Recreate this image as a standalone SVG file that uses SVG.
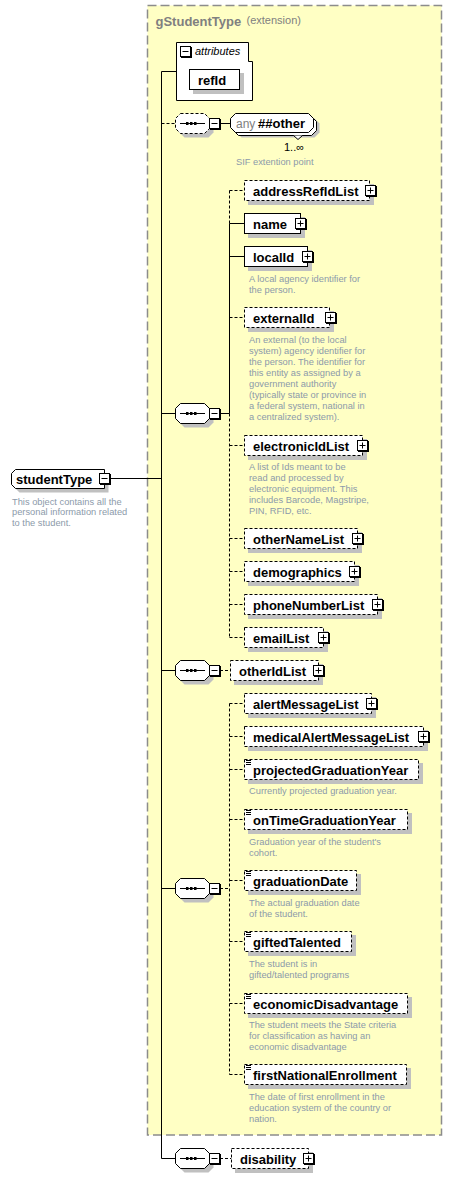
<svg xmlns="http://www.w3.org/2000/svg" xmlns:xlink="http://www.w3.org/1999/xlink" width="452" height="1178" viewBox="0 0 452 1178">
<style>
.bg{fill:#fff}
.grp{fill:#FFFFC4;stroke:#8c8c8c;stroke-width:1.5;stroke-dasharray:9,4}
.sh{fill:#c0c0c0}
.box{fill:#fff;stroke:#000;stroke-width:1}
.opt{stroke-dasharray:3,2}
.ln{fill:none;stroke:#000;stroke-width:1}
.dl{fill:none;stroke:#000;stroke-width:1;stroke-dasharray:3,2}
.nm{font-family:"Liberation Sans",Arial,sans-serif;font-weight:bold;font-size:13px;fill:#000}
.ds{font-family:"Liberation Sans",Arial,sans-serif;font-size:9.3px;fill:#8c9aaa}
.gt{font-family:"Liberation Sans",Arial,sans-serif;font-weight:bold;font-size:13px;fill:#808080}
.ext{font-family:"Liberation Sans",Arial,sans-serif;font-size:11px;fill:#808080}
.it{font-family:"Liberation Sans",Arial,sans-serif;font-style:italic;font-size:11px;fill:#000}
.sm{font-family:"Liberation Sans","DejaVu Sans",sans-serif;font-size:11px;fill:#000}
.any{font-family:"Liberation Sans",Arial,sans-serif;font-size:12px;fill:#808080}
</style>
<defs>
<g id="plus">
<rect x="1" y="1" width="11" height="11" fill="#000"/>
<rect x="0.5" y="0.5" width="10" height="10" class="box"/>
<path d="M2.5,5.5H8.5M5.5,2.5V8.5" class="ln"/>
</g>
<g id="minus">
<rect x="1" y="1" width="11" height="11" fill="#000"/>
<rect x="0.5" y="0.5" width="10" height="10" class="box"/>
<path d="M2.5,5.5H8.5" class="ln"/>
</g>
<path id="seqShape" d="M5.5,-9.5H29.5L34.5,-4.5V5.5L29.5,10.5H5.5L0.5,5.5V-4.5Z"/>
<g id="seqInner">
<path d="M5,0.5H30" class="ln"/>
<rect x="11" y="-1" width="2.5" height="3" fill="#000"/>
<rect x="15" y="-1" width="2.5" height="3" fill="#000"/>
<rect x="19" y="-1" width="2.5" height="3" fill="#000"/>
<use xlink:href="#minus" x="34" y="-5"/>
</g>
<g id="seq">
<use xlink:href="#seqShape" class="sh" transform="translate(4,4)"/>
<use xlink:href="#seqShape" class="box"/>
<use xlink:href="#seqInner"/>
</g>
<g id="seqOpt">
<use xlink:href="#seqShape" class="sh" transform="translate(4,4)"/>
<use xlink:href="#seqShape" class="box opt"/>
<use xlink:href="#seqInner"/>
</g>
<path id="eq" d="M246,1.5H251M246,3.5H251M246,5.5H251" class="ln"/>
</defs>

<rect x="0" y="0" width="452" height="1178" class="bg"/>

<g id="gStudentType">
<rect x="147.5" y="5.5" width="294" height="1129.5" class="grp"/>
<text x="155.5" y="26" class="gt">gStudentType</text>
<text x="246.5" y="24" class="ext">(extension)</text>
</g>

<g id="connectors">
<path d="M161.5,71.5V1158.5" class="ln"/>
<path d="M161.5,71.5H176.5" class="ln"/>
<path d="M110,478.5H161.5" class="ln"/>
<path d="M161.5,123.5H175.5" class="dl"/>
<path d="M161.5,413.5H175.5M161.5,670.5H175.5M161.5,888.5H175.5M161.5,1158.5H175.5" class="ln"/>
<path d="M220,123.5H230.5" class="ln"/>
<path d="M220,413.5H229.5M229.5,223.5V413.5M229.5,223.5H244.5M229.5,256.5H244.5" class="ln"/>
<path d="M229.5,190.5V223.5M229.5,413.5V637.5M229.5,190.5H244.5M229.5,317.5H244.5M229.5,445.5H244.5M229.5,538.5H244.5M229.5,571.5H244.5M229.5,604.5H244.5M229.5,637.5H244.5" class="dl"/>
<path d="M220,670.5H230.5" class="dl"/>
<path d="M220,888.5H229.5M229.5,703.5V1074.5M229.5,703.5H244.5M229.5,736.5H244.5M229.5,769.5H244.5M229.5,819.5H244.5M229.5,880.5H244.5M229.5,941.5H244.5M229.5,1003.5H244.5M229.5,1074.5H244.5" class="dl"/>
<path d="M220,1158.5H231.5" class="dl"/>
</g>

<g id="studentType">
<path d="M15.5,469.5H104.5V488.5H15.5L11.5,484.5V473.5Z" class="sh" transform="translate(4,4)"/>
<path d="M15.5,469.5H104.5V488.5H15.5L11.5,484.5V473.5Z" class="box"/>
<text x="16" y="483.5" class="nm">studentType</text>
<use xlink:href="#minus" x="99" y="473"/>
<text class="ds"><tspan x="12" y="504.5">This object contains all the</tspan><tspan x="12" y="515">personal information related</tspan><tspan x="12" y="525.5">to the student.</tspan></text>
</g>

<g id="attributes">
<path d="M176.5,42.5H248.5V61.5H252.5V100.5H176.5Z" class="box"/>
<use xlink:href="#minus" x="180" y="46"/>
<text x="195" y="55" class="it">attributes</text>
</g>

<g id="refId">
<rect x="193" y="73" width="51" height="21" class="sh"/>
<rect x="189.5" y="69.5" width="50" height="20" class="box"/>
<text x="198" y="84.5" class="nm">refId</text>
</g>

<g id="seq1"><use xlink:href="#seqOpt" x="175" y="123"/></g>

<g id="anyOther">
<path d="M235.5,113.5H308.5L313.5,118.5V127.5L308.5,132.5H235.5L230.5,127.5V118.5Z" class="sh" transform="translate(6,5)"/>
<path d="M235.5,113.5H308.5L313.5,118.5V127.5L308.5,132.5H235.5L230.5,127.5V118.5Z" class="box" transform="translate(3,3)"/>
<path d="M293.5,135.5L298,139.5L302.5,135.5" class="box"/>
<path d="M235.5,113.5H308.5L313.5,118.5V127.5L308.5,132.5H235.5L230.5,127.5V118.5Z" class="box"/>
<text x="236" y="127.5" class="any">any</text>
<text x="258" y="127.5" class="nm">##other</text>
<text x="284" y="150.5" class="sm">1..∞</text>
<text x="236" y="165" class="ds">SIF extention point</text>
</g>

<g id="seq2"><use xlink:href="#seq" x="175" y="413"/></g>

<g id="addressRefIdList">
<rect x="248" y="184" width="126" height="21" class="sh"/>
<rect x="244.5" y="180.5" width="125" height="20" class="box opt"/>
<text x="253" y="195.5" class="nm">addressRefIdList</text>
<use xlink:href="#plus" x="365" y="185"/>
</g>

<g id="name">
<rect x="248" y="217" width="57" height="21" class="sh"/>
<rect x="244.5" y="213.5" width="56" height="20" class="box"/>
<text x="253" y="228.5" class="nm">name</text>
<use xlink:href="#plus" x="295" y="218"/>
</g>

<g id="localId">
<rect x="248" y="250" width="64" height="21" class="sh"/>
<rect x="244.5" y="246.5" width="63" height="20" class="box"/>
<text x="253" y="261.5" class="nm">localId</text>
<use xlink:href="#plus" x="302" y="251"/>
<text class="ds"><tspan x="249" y="282">A local agency identifier for</tspan><tspan x="249" y="293">the person.</tspan></text>
</g>

<g id="externalId">
<rect x="248" y="311" width="86" height="21" class="sh"/>
<rect x="244.5" y="307.5" width="85" height="20" class="box opt"/>
<text x="253" y="322.5" class="nm">externalId</text>
<use xlink:href="#plus" x="325" y="312"/>
<text class="ds"><tspan x="249" y="342.5">An external (to the local</tspan><tspan x="249" y="353.5">system) agency identifier for</tspan><tspan x="249" y="364.5">the person. The identifier for</tspan><tspan x="249" y="375.5">this entity as assigned by a</tspan><tspan x="249" y="386.5">government authority</tspan><tspan x="249" y="397.5">(typically state or province in</tspan><tspan x="249" y="408.5">a federal system, national in</tspan><tspan x="249" y="419.5">a centralized system).</tspan></text>
</g>

<g id="electronicIdList">
<rect x="248" y="439" width="119" height="21" class="sh"/>
<rect x="244.5" y="435.5" width="118" height="20" class="box opt"/>
<text x="253" y="450.5" class="nm">electronicIdList</text>
<use xlink:href="#plus" x="357" y="440"/>
<text class="ds"><tspan x="249" y="469.5">A list of Ids meant to be</tspan><tspan x="249" y="480.5">read and processed by</tspan><tspan x="249" y="491.5">electronic equipment. This</tspan><tspan x="249" y="502.5">includes Barcode, Magstripe,</tspan><tspan x="249" y="513.5">PIN, RFID, etc.</tspan></text>
</g>

<g id="otherNameList">
<rect x="248" y="532" width="114" height="21" class="sh"/>
<rect x="244.5" y="528.5" width="113" height="20" class="box opt"/>
<text x="253" y="543.5" class="nm">otherNameList</text>
<use xlink:href="#plus" x="352" y="533"/>
</g>

<g id="demographics">
<rect x="248" y="565" width="111" height="21" class="sh"/>
<rect x="244.5" y="561.5" width="110" height="20" class="box opt"/>
<text x="253" y="576.5" class="nm">demographics</text>
<use xlink:href="#plus" x="349" y="566"/>
</g>

<g id="phoneNumberList">
<rect x="248" y="598" width="134" height="21" class="sh"/>
<rect x="244.5" y="594.5" width="133" height="20" class="box opt"/>
<text x="253" y="609.5" class="nm">phoneNumberList</text>
<use xlink:href="#plus" x="372" y="599"/>
</g>

<g id="emailList">
<rect x="248" y="631" width="80" height="21" class="sh"/>
<rect x="244.5" y="627.5" width="79" height="20" class="box opt"/>
<text x="253" y="642.5" class="nm">emailList</text>
<use xlink:href="#plus" x="318" y="632"/>
</g>

<g id="seq3"><use xlink:href="#seq" x="175" y="670"/></g>

<g id="otherIdList">
<rect x="234" y="664" width="89" height="21" class="sh"/>
<rect x="230.5" y="660.5" width="88" height="20" class="box opt"/>
<text x="239" y="675.5" class="nm">otherIdList</text>
<use xlink:href="#plus" x="313" y="665"/>
</g>

<g id="seq4"><use xlink:href="#seq" x="175" y="888"/></g>

<g id="alertMessageList">
<rect x="248" y="697" width="128" height="21" class="sh"/>
<rect x="244.5" y="693.5" width="127" height="20" class="box opt"/>
<text x="253" y="708.5" class="nm">alertMessageList</text>
<use xlink:href="#plus" x="366" y="698"/>
</g>

<g id="medicalAlertMessageList">
<rect x="248" y="730" width="180" height="21" class="sh"/>
<rect x="244.5" y="726.5" width="179" height="20" class="box opt"/>
<text x="253" y="741.5" class="nm">medicalAlertMessageList</text>
<use xlink:href="#plus" x="418" y="731"/>
</g>

<g id="projectedGraduationYear">
<rect x="248" y="763" width="175" height="21" class="sh"/>
<rect x="244.5" y="759.5" width="174" height="20" class="box opt"/>
<use xlink:href="#eq" y="759"/>
<text x="253" y="774.5" class="nm">projectedGraduationYear</text>
<text x="249" y="794" class="ds">Currently projected graduation year.</text>
</g>

<g id="onTimeGraduationYear">
<rect x="248" y="813" width="164" height="21" class="sh"/>
<rect x="244.5" y="809.5" width="163" height="20" class="box opt"/>
<use xlink:href="#eq" y="809"/>
<text x="253" y="824.5" class="nm">onTimeGraduationYear</text>
<text class="ds"><tspan x="249" y="844.5">Graduation year of the student's</tspan><tspan x="249" y="855.5">cohort.</tspan></text>
</g>

<g id="graduationDate">
<rect x="248" y="874" width="113" height="21" class="sh"/>
<rect x="244.5" y="870.5" width="112" height="20" class="box opt"/>
<use xlink:href="#eq" y="870"/>
<text x="253" y="885.5" class="nm">graduationDate</text>
<text class="ds"><tspan x="249" y="905.5">The actual graduation date</tspan><tspan x="249" y="916.5">of the student.</tspan></text>
</g>

<g id="giftedTalented">
<rect x="248" y="935" width="108" height="21" class="sh"/>
<rect x="244.5" y="931.5" width="107" height="20" class="box opt"/>
<use xlink:href="#eq" y="931"/>
<text x="253" y="946.5" class="nm">giftedTalented</text>
<text class="ds"><tspan x="249" y="967">The student is in</tspan><tspan x="249" y="978">gifted/talented programs</tspan></text>
</g>

<g id="economicDisadvantage">
<rect x="248" y="997" width="164" height="21" class="sh"/>
<rect x="244.5" y="993.5" width="163" height="20" class="box opt"/>
<use xlink:href="#eq" y="993"/>
<text x="253" y="1008.5" class="nm">economicDisadvantage</text>
<text class="ds"><tspan x="249" y="1028">The student meets the State criteria</tspan><tspan x="249" y="1039">for classification as having an</tspan><tspan x="249" y="1050">economic disadvantage</tspan></text>
</g>

<g id="firstNationalEnrollment">
<rect x="248" y="1068" width="163" height="21" class="sh"/>
<rect x="244.5" y="1064.5" width="162" height="20" class="box opt"/>
<use xlink:href="#eq" y="1064"/>
<text x="253" y="1079.5" class="nm">firstNationalEnrollment</text>
<text class="ds"><tspan x="249" y="1099.5">The date of first enrollment in the</tspan><tspan x="249" y="1110.5">education system of the country or</tspan><tspan x="249" y="1121.5">nation.</tspan></text>
</g>

<g id="seq5"><use xlink:href="#seq" x="175" y="1158"/></g>

<g id="disability">
<rect x="235" y="1152" width="78" height="21" class="sh"/>
<rect x="231.5" y="1148.5" width="77" height="20" class="box opt"/>
<text x="240" y="1163.5" class="nm">disability</text>
<use xlink:href="#plus" x="303" y="1153"/>
</g>
</svg>
